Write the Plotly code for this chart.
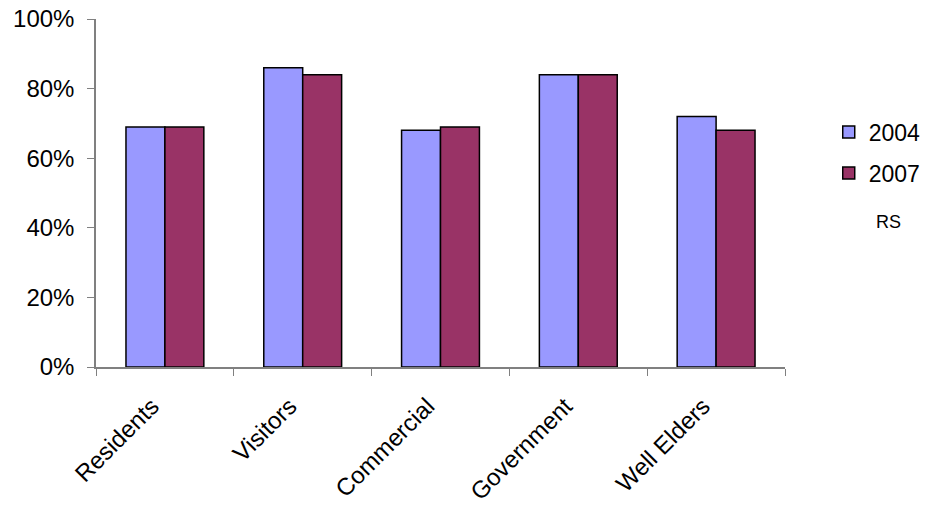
import plotly.graph_objects as go

categories = ["Residents", "Visitors", "Commercial", "Government", "Well Elders"]
values_2004 = [69, 86, 68, 84, 72]
values_2007 = [69, 84, 69, 84, 68]
series_names = ["2004", "2007"]
y_ticks = [0, 20, 40, 60, 80, 100]
y_tick_labels = [f"{v}%" for v in y_ticks]

font_family = "Liberation Sans, Arial, sans-serif"

fig = go.Figure()
fig.add_trace(go.Bar(
    x=categories, y=values_2004, name=series_names[0], legendgroup="g2004",
    marker=dict(color="#9999FF", line=dict(color="#000000", width=1.5)),
))
fig.add_trace(go.Bar(
    x=categories, y=values_2007, name=series_names[1], legendgroup="g2007",
    marker=dict(color="#993366", line=dict(color="#000000", width=1.5)),
))

fig.update_layout(
    width=927, height=510,
    margin=dict(l=96, r=142, t=19, b=143, autoexpand=False),
    paper_bgcolor="white", plot_bgcolor="white",
    barmode="group", bargap=0.435, bargroupgap=0,
    font=dict(family=font_family, size=24, color="#000000"),
    showlegend=True,
    legend=dict(
        xref="container", yref="container",
        x=0.894, y=0.783, xanchor="left", yanchor="top",
        font=dict(size=23), tracegroupgap=8, itemwidth=30,
        bgcolor="rgba(0,0,0,0)",
    ),
)

fig.update_xaxes(
    tickangle=-45, showline=True, linecolor="#808080", linewidth=1.5,
    ticks="outside", tickson="boundaries", ticklen=7, tickcolor="#808080",
    tickfont=dict(size=24), showgrid=False, automargin=False,
    ticklabelshift=-13, ticklabelstandoff=14,
)
fig.update_yaxes(
    range=[0, 100], tickvals=y_ticks, ticktext=y_tick_labels,
    showline=True, linecolor="#808080", linewidth=1.5,
    ticks="outside", ticklen=7, tickcolor="#808080",
    tickfont=dict(size=24), showgrid=False, zeroline=False, automargin=False,
    ticklabelstandoff=8,
)

fig.add_annotation(
    text="RS", xref="paper", yref="paper", x=1.15, y=0.416,
    xanchor="center", yanchor="middle", showarrow=False,
    font=dict(size=18, family=font_family),
)

fig.write_html("out.html")
